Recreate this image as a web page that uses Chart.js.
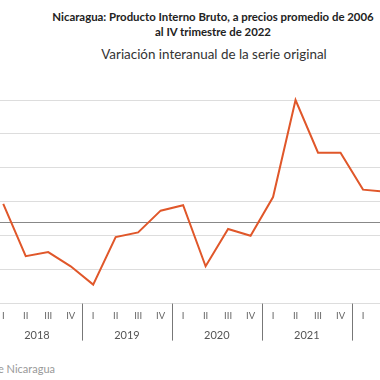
<!DOCTYPE html>
<html>
<head>
<meta charset="utf-8">
<script src="https://cdn.jsdelivr.net/npm/chart.js@4.4.1/dist/chart.umd.min.js"></script>
<style>
  html, body { margin:0; padding:0; width:380px; height:380px; overflow:hidden; background:#fff; }
  .t { position:absolute; white-space:nowrap; font-family: Lato, "Open Sans", sans-serif; }
  #title { left:213px; top:9px; transform:translateX(-50%); text-align:center; font-weight:bold; font-size:11.4px; line-height:15px; color:#222; }
  #subtitle { left:214px; top:46px; transform:translateX(-50%); font-size:13.4px; color:#333; }
  #source { right:325px; top:362px; font-size:11px; color:#999; }
  #wrap { position:absolute; left:-8px; top:80px; width:450px; height:265px; }
</style>
</head>
<body>
<div class="t" id="title">Nicaragua: Producto Interno Bruto, a precios promedio de 2006<br>al IV trimestre de 2022</div>
<div class="t" id="subtitle">Variación interanual de la serie original</div>
<div class="t" id="source">Fuente: Banco Central de Nicaragua</div>
<div id="wrap"><canvas id="c"></canvas></div>
<script>
const quarters = ['I','II','III','IV'];
const years = ['2018','2019','2020','2021','2022'];
const categories = ['I','II','III','IV','I','II','III','IV','I','II','III','IV','I','II','III','IV','I','II','III','IV'];
const variacion = [2.7, -5.0, -4.4, -6.5, -9.2, -2.2, -1.5, 1.7, 2.5, -6.5, -1.0, -2.0, 3.7, 18.0, 10.25, 10.25, 4.8, 4.5, 4.0, 2.9];
const yTicks = [-12, -7, -2, 0, 3, 8, 13, 18];

const yearPlugin = {
  id: 'yearLabels',
  afterDraw(chart) {
    const x = chart.scales.x, area = chart.chartArea, ctx = chart.ctx;
    const step = x.getPixelForValue(1) - x.getPixelForValue(0);
    ctx.save();
    ctx.strokeStyle = '#777';
    ctx.lineWidth = 1;
    ctx.fillStyle = '#555';
    ctx.font = '11px Lato, "Open Sans", sans-serif';
    ctx.textAlign = 'center';
    ctx.textBaseline = 'middle';
    years.forEach((yr, k) => {
      const first = x.getPixelForValue(4*k), last = x.getPixelForValue(4*k + 3);
      const sep = Math.round(first - step/2) + 0.5;
      ctx.beginPath();
      ctx.moveTo(sep, area.bottom);
      ctx.lineTo(sep, area.bottom + 37);
      ctx.stroke();
      ctx.fillText(yr, (first + last)/2, area.bottom + 31.5);
    });
    ctx.restore();
  }
};

new Chart(document.getElementById('c'), {
  type: 'line',
  data: {
    labels: categories,
    datasets: [{
      data: variacion,
      borderColor: '#e0572a',
      borderWidth: 2,
      pointRadius: 0,
      tension: 0,
      fill: false
    }]
  },
  options: {
    responsive: true,
    maintainAspectRatio: false,
    animation: false,
    devicePixelRatio: 1,
    layout: { padding: { top: 6.5, bottom: 16, left: 0, right: 0 } },
    plugins: { legend: { display: false }, tooltip: { enabled: false } },
    scales: {
      x: {
        offset: true,
        grid: { display: false, drawOnChartArea: false, drawTicks: false },
        border: { display: true, color: '#ddd', width: 1 },
        ticks: { color: '#666', font: { size: 9.5, family: 'Lato, "Open Sans", sans-serif' }, padding: 7, autoSkip: false, maxRotation: 0 }
      },
      y: {
        min: -12, max: 20,
        afterBuildTicks: (s) => { s.ticks = yTicks.map(v => ({ value: v })); },
        ticks: { display: false },
        border: { display: false },
        grid: {
          drawTicks: false,
          color: (c) => (c.tick && c.tick.value === 0) ? '#888' : '#ddd',
          lineWidth: 1
        }
      }
    }
  },
  plugins: [yearPlugin]
});
</script>
</body>
</html>
